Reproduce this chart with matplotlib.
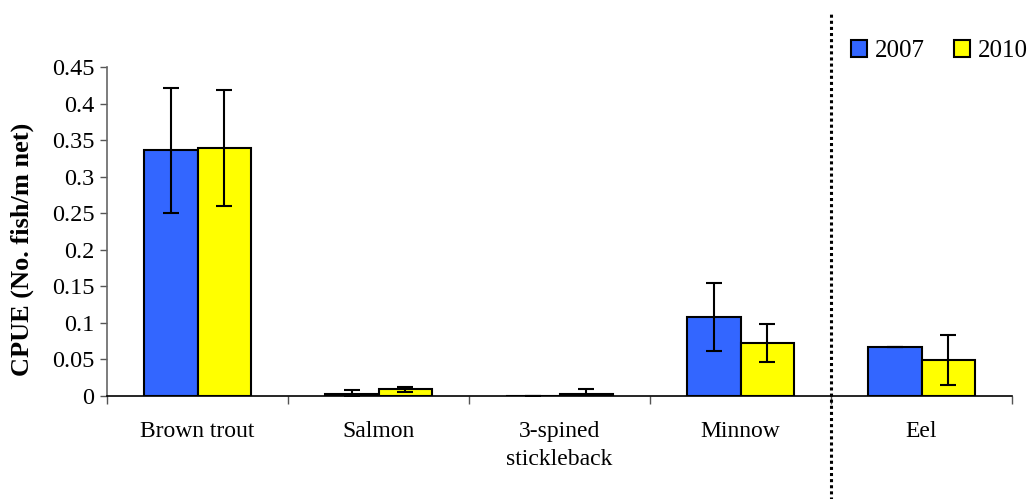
"""
CPUE per species, 2007 vs 2010, grouped bars with error bars.
"""
import matplotlib.pyplot as plt
import numpy as np

plt.rcParams["font.family"] = ["Liberation Serif", "DejaVu Serif"]

species = ["Brown trout", "Salmon", "3-spined\nstickleback", "Minnow", "Eel"]
years = ["2007", "2010"]
cpue_2007 = [0.336, 0.003, 0.0, 0.108, 0.0675]
cpue_2010 = [0.339, 0.009, 0.003, 0.0725, 0.049]
err_2007 = [0.085, 0.005, 0.0, 0.047, 0.0]
err_2010 = [0.079, 0.003, 0.006, 0.026, 0.034]
y_ticks = [0, 0.05, 0.1, 0.15, 0.2, 0.25, 0.3, 0.35, 0.4, 0.45]
y_tick_labels = ["0", "0.05", "0.1", "0.15", "0.2", "0.25", "0.3", "0.35", "0.4", "0.45"]

colors = ["#3366FF", "#FFFF00"]

fig = plt.figure(figsize=(10.31, 4.99), dpi=100)
ax = fig.add_axes([0.1038, 0.2064, 0.8778, 0.6593])

x = np.arange(len(species))
width = 0.293
errkw = dict(ecolor="black", elinewidth=1.5, capsize=6, capthick=1.5)

b1 = ax.bar(x - width / 2, cpue_2007, width, color=colors[0], edgecolor="black",
            linewidth=1.5, yerr=err_2007, error_kw=errkw, label=years[0], zorder=2)
b2 = ax.bar(x + width / 2, cpue_2010, width, color=colors[1], edgecolor="black",
            linewidth=1.5, yerr=err_2010, error_kw=errkw, label=years[1], zorder=2)

ax.set_xlim(-0.5, len(species) - 0.5)
ax.set_ylim(0, 0.45)
ax.set_yticks(y_ticks)
ax.set_yticklabels(y_tick_labels, fontsize=17.5)
ax.set_xticks(x)
ax.set_xticklabels(species, fontsize=17, linespacing=1.45)
ax.set_xticks(np.arange(len(species) + 1) - 0.5, minor=True)
ax.tick_params(axis="x", which="major", length=0, pad=18)
ax.tick_params(axis="x", which="minor", length=6, width=1, direction="out", color="#555555")
ax.tick_params(axis="y", length=5, width=1, direction="out", color="#555555", pad=4)

ax.set_ylabel("CPUE (No. fish/m net)", fontsize=19, fontweight="bold")
ax.yaxis.set_label_coords(-0.081, 0.447)

for side in ("top", "right"):
    ax.spines[side].set_visible(False)
ax.spines["left"].set_color("#666666")
ax.spines["left"].set_linewidth(1.2)
ax.spines["bottom"].set_color("black")
ax.spines["bottom"].set_linewidth(1.2)

# dotted separator between the freshwater species and eel
ax.axvline(3.5, ymin=-0.32, ymax=1.167, clip_on=False, color="black",
           linestyle=(0, (1, 1)), linewidth=2.2, zorder=3)

ax.legend(handles=[b1, b2], loc="upper left", bbox_to_anchor=(0.822, 1.082),
          ncol=2, frameon=False, fontsize=18, handlelength=0.64, handleheight=0.68,
          handletextpad=0.32, columnspacing=1.16, borderaxespad=0, borderpad=0)

fig.savefig("out.png", dpi=100)
